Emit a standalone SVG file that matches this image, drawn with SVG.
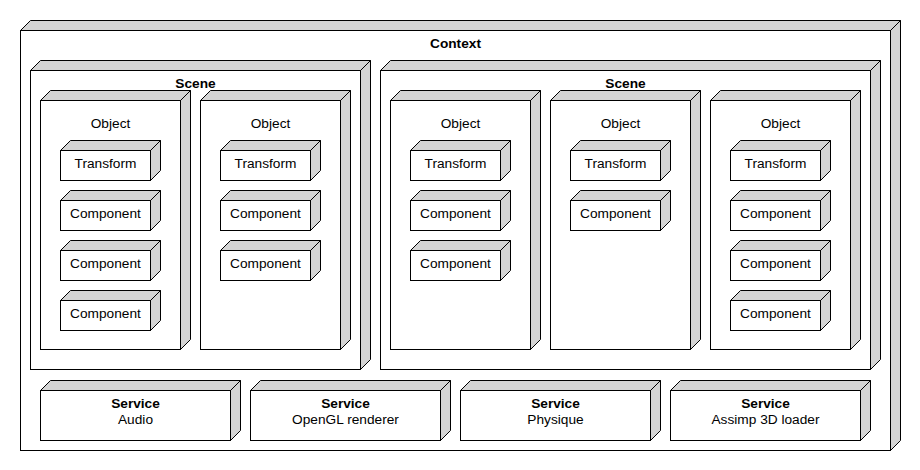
<svg xmlns="http://www.w3.org/2000/svg" width="920" height="470" viewBox="0 0 920 470">
<style>
.f{fill:#fff;stroke:#000;stroke-width:1}
.s{fill:#d4d4d4;stroke:#000;stroke-width:1;stroke-linejoin:miter}
text{font-family:"Liberation Sans",Arial,sans-serif;font-size:13.7px;fill:#000;text-anchor:middle}
.b{font-weight:bold}
</style>
<rect width="920" height="470" fill="#fff"/>
<g transform="translate(0.5,0.5)">
<g id="context">
<polygon class="s" points="20,30 30,20 900,20 890,30"/>
<polygon class="s" points="890,30 900,20 900,440 890,450"/>
<rect class="f" x="20" y="30" width="870" height="420"/>
<text class="b" x="455" y="47">Context</text>
</g>
<g id="scene1">
<polygon class="s" points="30,70 40,60 370,60 360,70"/>
<polygon class="s" points="360,70 370,60 370,359 360,369"/>
<rect class="f" x="30" y="70" width="330" height="299"/>
<text class="b" x="195" y="87">Scene</text>
</g>
<g id="scene2">
<polygon class="s" points="380,70 390,60 880,60 870,70"/>
<polygon class="s" points="870,70 880,60 880,359 870,369"/>
<rect class="f" x="380" y="70" width="490" height="299"/>
<text class="b" x="625" y="87">Scene</text>
</g>
<g id="obj1">
<polygon class="s" points="40,100 50,90 190,90 180,100"/>
<polygon class="s" points="180,100 190,90 190,339 180,349"/>
<rect class="f" x="40" y="100" width="140" height="249"/>
<text x="110" y="127">Object</text>
</g>
<g id="obj2">
<polygon class="s" points="200,100 210,90 350,90 340,100"/>
<polygon class="s" points="340,100 350,90 350,339 340,349"/>
<rect class="f" x="200" y="100" width="140" height="249"/>
<text x="270" y="127">Object</text>
</g>
<g id="obj3">
<polygon class="s" points="390,100 400,90 540,90 530,100"/>
<polygon class="s" points="530,100 540,90 540,339 530,349"/>
<rect class="f" x="390" y="100" width="140" height="249"/>
<text x="460" y="127">Object</text>
</g>
<g id="obj4">
<polygon class="s" points="550,100 560,90 700,90 690,100"/>
<polygon class="s" points="690,100 700,90 700,339 690,349"/>
<rect class="f" x="550" y="100" width="140" height="249"/>
<text x="620" y="127">Object</text>
</g>
<g id="obj5">
<polygon class="s" points="710,100 720,90 860,90 850,100"/>
<polygon class="s" points="850,100 860,90 860,339 850,349"/>
<rect class="f" x="710" y="100" width="140" height="249"/>
<text x="780" y="127">Object</text>
</g>
<defs>
<g id="box">
<polygon class="s" points="0,0 10,-10 100,-10 90,0"/>
<polygon class="s" points="90,0 100,-10 100,20 90,30"/>
<rect class="f" x="0" y="0" width="90" height="30"/>
</g>
</defs>
<g id="o1t"><use href="#box" x="60" y="150"/><text x="105" y="167">Transform</text></g>
<g id="o1c1"><use href="#box" x="60" y="200"/><text x="105" y="217">Component</text></g>
<g id="o1c2"><use href="#box" x="60" y="250"/><text x="105" y="267">Component</text></g>
<g id="o1c3"><use href="#box" x="60" y="300"/><text x="105" y="317">Component</text></g>
<g id="o2t"><use href="#box" x="220" y="150"/><text x="265" y="167">Transform</text></g>
<g id="o2c1"><use href="#box" x="220" y="200"/><text x="265" y="217">Component</text></g>
<g id="o2c2"><use href="#box" x="220" y="250"/><text x="265" y="267">Component</text></g>
<g id="o3t"><use href="#box" x="410" y="150"/><text x="455" y="167">Transform</text></g>
<g id="o3c1"><use href="#box" x="410" y="200"/><text x="455" y="217">Component</text></g>
<g id="o3c2"><use href="#box" x="410" y="250"/><text x="455" y="267">Component</text></g>
<g id="o4t"><use href="#box" x="570" y="150"/><text x="615" y="167">Transform</text></g>
<g id="o4c1"><use href="#box" x="570" y="200"/><text x="615" y="217">Component</text></g>
<g id="o5t"><use href="#box" x="730" y="150"/><text x="775" y="167">Transform</text></g>
<g id="o5c1"><use href="#box" x="730" y="200"/><text x="775" y="217">Component</text></g>
<g id="o5c2"><use href="#box" x="730" y="250"/><text x="775" y="267">Component</text></g>
<g id="o5c3"><use href="#box" x="730" y="300"/><text x="775" y="317">Component</text></g>
<defs>
<g id="svc">
<polygon class="s" points="0,0 10,-10 200,-10 190,0"/>
<polygon class="s" points="190,0 200,-10 200,40 190,50"/>
<rect class="f" x="0" y="0" width="190" height="50"/>
</g>
</defs>
<g id="svc1"><use href="#svc" x="40" y="390"/><text class="b" x="135" y="407">Service</text><text x="135" y="423">Audio</text></g>
<g id="svc2"><use href="#svc" x="250" y="390"/><text class="b" x="345" y="407">Service</text><text x="345" y="423">OpenGL renderer</text></g>
<g id="svc3"><use href="#svc" x="460" y="390"/><text class="b" x="555" y="407">Service</text><text x="555" y="423">Physique</text></g>
<g id="svc4"><use href="#svc" x="670" y="390"/><text class="b" x="765" y="407">Service</text><text x="765" y="423">Assimp 3D loader</text></g>
<g id="connectors"></g>
</g>
</svg>
